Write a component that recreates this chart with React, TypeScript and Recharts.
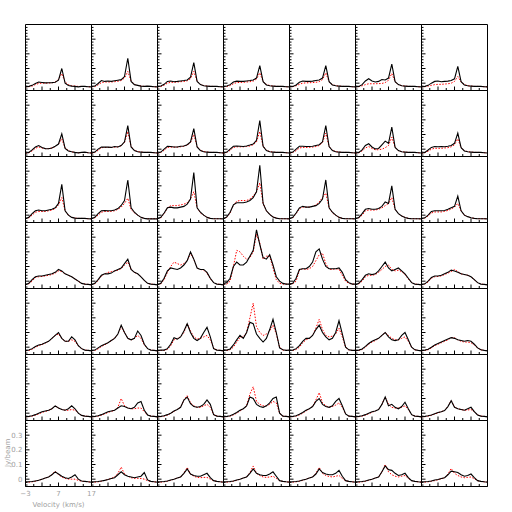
import React from 'react';
import { LineChart, Line, XAxis, YAxis } from 'recharts';

// velocity grid (km/s)
const velocity = [-3, -2, -1, 0, 1, 2, 3, 4, 5, 6, 7, 8, 9, 10, 11, 12, 13, 14, 15, 16, 17];

const xTicks = [-3, -0.5, 2, 4.5, 7, 9.5, 12, 14.5, 17];
const xMajorTicks = [-3, 2, 7, 12, 17];
const xLabelTicks = [-3, 7, 17];
const yTicks = [-0.04, -0.02, 0, 0.02, 0.04, 0.06, 0.08, 0.1, 0.12, 0.14, 0.16, 0.18, 0.2, 0.22, 0.24, 0.26, 0.28, 0.3, 0.32, 0.34, 0.36, 0.38];
const yMajorTicks = [0, 0.1, 0.2, 0.3];
const yLabelTicks = [0, 0.1, 0.2, 0.3];

// observed (black) spectra, one row of 7 panels per array
const obsRow1 = [
  [-0.025,-0.022,-0.015,-0.002,0.008,0.005,0.002,0.003,0.004,0.006,0.02,0.10,0.0,-0.016,-0.02,-0.022,-0.025,-0.022,-0.022,-0.024,-0.025],
  [-0.025,-0.02,-0.002,0.018,0.012,0.015,0.012,0.016,0.02,0.024,0.045,0.17,0.012,-0.01,-0.015,-0.02,-0.022,-0.02,-0.022,-0.024,-0.025],
  [-0.025,-0.02,-0.008,0.012,0.015,0.01,0.012,0.015,0.018,0.022,0.04,0.14,0.012,-0.01,-0.018,-0.02,-0.022,-0.021,-0.022,-0.024,-0.025],
  [-0.025,-0.02,-0.01,0.008,0.014,0.012,0.012,0.015,0.018,0.022,0.035,0.12,0.01,-0.012,-0.018,-0.02,-0.022,-0.022,-0.022,-0.024,-0.025],
  [-0.025,-0.022,-0.012,0.006,0.015,0.012,0.012,0.014,0.018,0.022,0.035,0.12,0.01,-0.012,-0.018,-0.02,-0.022,-0.022,-0.022,-0.024,-0.025],
  [-0.025,-0.022,-0.01,0.015,0.03,0.015,0.008,0.012,0.025,0.022,0.035,0.13,0.01,-0.01,-0.018,-0.02,-0.022,-0.022,-0.022,-0.024,-0.025],
  [-0.025,-0.022,-0.015,0.0,0.012,0.015,0.01,0.012,0.014,0.018,0.03,0.115,0.01,-0.012,-0.018,-0.02,-0.022,-0.022,-0.022,-0.024,-0.025],
];
const obsRow2 = [
  [-0.028,-0.022,-0.005,0.015,0.025,0.012,0.004,0.003,0.008,0.02,0.035,0.105,0.005,-0.012,-0.018,-0.022,-0.025,-0.022,-0.02,-0.024,-0.026],
  [-0.028,-0.02,0.0,0.015,0.014,0.014,0.012,0.018,0.015,0.025,0.05,0.16,0.015,-0.01,-0.018,-0.02,-0.022,-0.022,-0.022,-0.024,-0.026],
  [-0.028,-0.02,0.0,0.02,0.018,0.015,0.015,0.02,0.022,0.03,0.05,0.14,0.015,-0.01,-0.018,-0.02,-0.022,-0.022,-0.022,-0.024,-0.026],
  [-0.028,-0.02,0.0,0.02,0.022,0.02,0.018,0.022,0.028,0.035,0.06,0.195,0.02,-0.01,-0.018,-0.02,-0.022,-0.022,-0.022,-0.024,-0.026],
  [-0.028,-0.02,0.0,0.02,0.02,0.018,0.018,0.02,0.025,0.03,0.05,0.16,0.018,-0.01,-0.018,-0.02,-0.022,-0.022,-0.022,-0.024,-0.026],
  [-0.028,-0.022,-0.005,0.025,0.037,0.015,0.002,0.005,0.03,0.055,0.04,0.15,0.012,-0.01,-0.018,-0.02,-0.022,-0.022,-0.022,-0.024,-0.026],
  [-0.028,-0.022,-0.006,0.012,0.018,0.016,0.018,0.016,0.02,0.025,0.04,0.11,0.01,-0.012,-0.018,-0.02,-0.022,-0.022,-0.022,-0.024,-0.026],
];
const obsRow3 = [
  [-0.025,-0.015,0.01,0.03,0.035,0.03,0.03,0.035,0.04,0.05,0.08,0.21,0.03,0.0,-0.015,-0.02,-0.022,-0.022,-0.022,-0.024,-0.025],
  [-0.025,-0.015,0.01,0.03,0.032,0.03,0.03,0.035,0.045,0.066,0.1,0.24,0.05,0.02,0.0,-0.015,-0.022,-0.025,-0.025,-0.024,-0.025],
  [-0.025,-0.015,0.015,0.05,0.055,0.05,0.05,0.055,0.06,0.075,0.11,0.29,0.05,0.02,0.0,-0.015,-0.022,-0.024,-0.024,-0.024,-0.025],
  [-0.025,-0.012,0.02,0.07,0.085,0.085,0.085,0.09,0.1,0.12,0.16,0.34,0.08,0.03,0.005,-0.012,-0.02,-0.024,-0.024,-0.024,-0.025],
  [-0.025,-0.015,0.015,0.05,0.06,0.055,0.055,0.06,0.065,0.08,0.11,0.24,0.05,0.02,0.0,-0.015,-0.022,-0.024,-0.024,-0.024,-0.025],
  [-0.025,-0.016,0.01,0.04,0.045,0.04,0.04,0.045,0.06,0.09,0.08,0.2,0.04,0.01,-0.005,-0.016,-0.022,-0.024,-0.024,-0.024,-0.025],
  [-0.025,-0.018,0.0,0.025,0.03,0.03,0.03,0.032,0.04,0.05,0.06,0.13,0.03,0.0,-0.01,-0.018,-0.022,-0.024,-0.024,-0.024,-0.025],
];
const obsRow4 = [
  [-0.025,-0.015,0.01,0.03,0.035,0.035,0.04,0.045,0.05,0.06,0.08,0.07,0.05,0.04,0.03,0.015,0.0,-0.015,-0.02,-0.022,-0.025],
  [-0.025,-0.015,0.01,0.04,0.05,0.05,0.055,0.07,0.08,0.09,0.12,0.15,0.08,0.06,0.05,0.03,0.005,-0.015,-0.02,-0.022,-0.025],
  [-0.025,-0.015,0.02,0.07,0.09,0.085,0.08,0.09,0.11,0.14,0.2,0.15,0.09,0.08,0.08,0.06,0.02,-0.01,-0.02,-0.022,-0.025],
  [-0.015,-0.01,0.02,0.1,0.13,0.11,0.11,0.13,0.17,0.21,0.35,0.25,0.16,0.15,0.18,0.11,0.03,0.0,-0.015,-0.02,-0.02],
  [-0.02,-0.015,0.02,0.08,0.085,0.085,0.1,0.13,0.2,0.22,0.15,0.1,0.085,0.085,0.085,0.09,0.06,0.01,-0.01,-0.02,-0.02],
  [-0.025,-0.015,0.01,0.04,0.05,0.045,0.05,0.07,0.1,0.13,0.09,0.07,0.08,0.09,0.07,0.05,0.02,-0.01,-0.02,-0.022,-0.025],
  [-0.025,-0.018,0.0,0.025,0.035,0.035,0.04,0.05,0.06,0.075,0.07,0.06,0.05,0.045,0.04,0.03,0.01,-0.01,-0.02,-0.022,-0.025],
];
const obsRow5 = [
  [-0.025,-0.02,-0.01,0.005,0.015,0.02,0.03,0.04,0.06,0.08,0.1,0.06,0.04,0.04,0.07,0.05,0.01,-0.01,-0.02,-0.022,-0.025],
  [-0.025,-0.02,-0.005,0.01,0.02,0.03,0.045,0.06,0.09,0.15,0.1,0.06,0.05,0.06,0.11,0.08,0.02,-0.01,-0.02,-0.022,-0.025],
  [-0.025,-0.02,-0.02,-0.01,0.02,0.065,0.055,0.07,0.11,0.16,0.1,0.06,0.045,0.06,0.1,0.135,0.07,-0.01,-0.02,-0.022,-0.025],
  [-0.02,-0.02,-0.012,0.015,0.05,0.08,0.06,0.1,0.17,0.16,0.09,0.06,0.035,0.06,0.12,0.19,0.1,-0.005,-0.018,-0.022,-0.02],
  [-0.022,-0.02,-0.01,0.01,0.04,0.06,0.06,0.08,0.12,0.15,0.1,0.07,0.05,0.06,0.1,0.18,0.09,0.0,-0.018,-0.022,-0.022],
  [-0.025,-0.02,-0.012,0.005,0.025,0.04,0.05,0.06,0.08,0.1,0.07,0.05,0.045,0.05,0.08,0.1,0.05,0.0,-0.018,-0.022,-0.025],
  [-0.025,-0.02,-0.014,0.0,0.015,0.025,0.035,0.045,0.055,0.065,0.06,0.05,0.045,0.04,0.045,0.04,0.02,-0.005,-0.018,-0.022,-0.025],
];
const obsRow6 = [
  [-0.025,-0.022,-0.018,-0.01,0.0,0.01,0.015,0.02,0.03,0.05,0.035,0.025,0.02,0.03,0.05,0.03,0.0,-0.015,-0.02,-0.022,-0.025],
  [-0.025,-0.022,-0.018,-0.01,0.0,0.01,0.015,0.02,0.035,0.05,0.045,0.035,0.03,0.04,0.07,0.08,0.02,-0.012,-0.02,-0.022,-0.025],
  [-0.025,-0.022,-0.018,-0.01,0.0,0.015,0.025,0.04,0.09,0.11,0.065,0.045,0.04,0.045,0.06,0.09,0.06,-0.01,-0.02,-0.022,-0.025],
  [-0.025,-0.022,-0.018,-0.008,0.005,0.02,0.03,0.05,0.11,0.1,0.06,0.045,0.04,0.05,0.07,0.1,0.11,0.0,-0.02,-0.022,-0.025],
  [-0.025,-0.022,-0.018,-0.008,0.005,0.02,0.03,0.045,0.08,0.1,0.06,0.045,0.04,0.05,0.08,0.1,0.05,-0.005,-0.02,-0.022,-0.025],
  [-0.025,-0.022,-0.018,-0.01,0.0,0.01,0.015,0.025,0.06,0.11,0.05,0.06,0.04,0.03,0.045,0.075,0.03,-0.01,-0.02,-0.022,-0.025],
  [-0.025,-0.022,-0.018,-0.012,-0.004,0.004,0.01,0.018,0.045,0.085,0.04,0.03,0.025,0.02,0.03,0.04,0.01,-0.012,-0.02,-0.022,-0.025],
];
const obsRow7 = [
  [-0.02,-0.018,-0.016,-0.012,-0.008,0.0,0.008,0.015,0.03,0.05,0.035,0.02,0.01,0.005,0.015,0.03,0.0,-0.012,-0.015,-0.018,-0.02],
  [-0.02,-0.018,-0.016,-0.012,-0.008,-0.002,0.005,0.01,0.03,0.05,0.03,0.02,0.015,0.01,0.015,0.02,0.045,-0.005,-0.015,-0.018,-0.02],
  [-0.02,-0.018,-0.016,-0.012,-0.006,0.0,0.008,0.015,0.04,0.07,0.035,0.025,0.02,0.02,0.03,0.04,0.01,-0.01,-0.015,-0.018,-0.02],
  [-0.02,-0.018,-0.016,-0.012,-0.006,0.0,0.008,0.015,0.04,0.07,0.04,0.03,0.025,0.025,0.035,0.05,0.02,-0.01,-0.015,-0.018,-0.02],
  [-0.02,-0.018,-0.016,-0.012,-0.006,0.0,0.008,0.015,0.035,0.07,0.045,0.035,0.03,0.03,0.04,0.06,0.02,-0.01,-0.015,-0.018,-0.02],
  [-0.02,-0.018,-0.016,-0.012,-0.006,0.0,0.008,0.015,0.05,0.09,0.065,0.06,0.04,0.025,0.03,0.04,0.01,-0.01,-0.015,-0.018,-0.02],
  [-0.02,-0.018,-0.016,-0.012,-0.006,-0.002,0.004,0.01,0.03,0.055,0.05,0.045,0.03,0.02,0.025,0.035,0.01,-0.01,-0.015,-0.018,-0.02],
];

// model (red dotted) spectra
const modRow1 = [
  [-0.025,-0.024,-0.02,-0.01,-0.002,0.0,0.0,0.001,0.002,0.008,0.025,0.065,0.008,-0.01,-0.018,-0.02,-0.022,-0.022,-0.023,-0.024,-0.025],
  [-0.025,-0.023,-0.012,0.004,0.008,0.008,0.008,0.01,0.013,0.018,0.035,0.08,0.015,-0.008,-0.016,-0.02,-0.022,-0.022,-0.023,-0.024,-0.025],
  [-0.025,-0.023,-0.014,0.0,0.006,0.006,0.008,0.01,0.012,0.016,0.03,0.08,0.014,-0.008,-0.016,-0.02,-0.022,-0.022,-0.023,-0.024,-0.025],
  [-0.025,-0.023,-0.016,-0.004,0.004,0.005,0.006,0.008,0.01,0.014,0.028,0.07,0.012,-0.008,-0.016,-0.02,-0.022,-0.022,-0.023,-0.024,-0.025],
  [-0.025,-0.024,-0.018,-0.008,0.0,0.002,0.003,0.004,0.006,0.01,0.024,0.07,0.01,-0.01,-0.017,-0.02,-0.022,-0.022,-0.023,-0.024,-0.025],
  [-0.025,-0.024,-0.018,-0.01,-0.004,-0.004,-0.004,-0.003,-0.002,0.004,0.02,0.066,0.01,-0.01,-0.017,-0.02,-0.022,-0.022,-0.023,-0.024,-0.025],
  [-0.025,-0.024,-0.02,-0.015,-0.01,-0.008,-0.008,-0.006,-0.004,0.0,0.012,0.045,0.008,-0.01,-0.017,-0.02,-0.022,-0.022,-0.023,-0.024,-0.025],
];
const modRow2 = [
  [-0.028,-0.024,-0.012,0.006,0.015,0.008,0.004,0.004,0.008,0.018,0.035,0.07,0.008,-0.01,-0.018,-0.022,-0.024,-0.023,-0.023,-0.024,-0.026],
  [-0.028,-0.022,-0.008,0.01,0.012,0.012,0.012,0.014,0.016,0.024,0.045,0.12,0.018,-0.008,-0.016,-0.02,-0.022,-0.022,-0.023,-0.024,-0.026],
  [-0.028,-0.022,-0.008,0.012,0.014,0.014,0.014,0.016,0.02,0.028,0.045,0.1,0.018,-0.008,-0.016,-0.02,-0.022,-0.022,-0.023,-0.024,-0.026],
  [-0.028,-0.022,-0.008,0.012,0.016,0.016,0.016,0.018,0.022,0.03,0.05,0.12,0.02,-0.008,-0.016,-0.02,-0.022,-0.022,-0.023,-0.024,-0.026],
  [-0.028,-0.022,-0.01,0.008,0.012,0.012,0.012,0.014,0.018,0.025,0.045,0.11,0.018,-0.008,-0.016,-0.02,-0.022,-0.022,-0.023,-0.024,-0.026],
  [-0.028,-0.024,-0.012,0.008,0.018,0.005,-0.004,-0.004,0.0,0.01,0.025,0.082,0.012,-0.01,-0.017,-0.02,-0.022,-0.022,-0.023,-0.024,-0.026],
  [-0.028,-0.024,-0.014,0.0,0.006,0.006,0.006,0.008,0.01,0.016,0.03,0.07,0.01,-0.01,-0.017,-0.02,-0.022,-0.022,-0.023,-0.024,-0.026],
];
const modRow3 = [
  [-0.025,-0.018,0.0,0.02,0.025,0.025,0.025,0.03,0.035,0.045,0.07,0.12,0.03,0.0,-0.014,-0.02,-0.022,-0.022,-0.023,-0.024,-0.025],
  [-0.025,-0.018,0.0,0.02,0.025,0.025,0.026,0.03,0.04,0.055,0.08,0.115,0.04,0.015,0.0,-0.015,-0.022,-0.024,-0.024,-0.024,-0.025],
  [-0.025,-0.018,0.01,0.05,0.065,0.065,0.065,0.07,0.075,0.085,0.11,0.16,0.05,0.015,0.0,-0.015,-0.022,-0.024,-0.024,-0.024,-0.025],
  [-0.025,-0.015,0.015,0.07,0.095,0.1,0.1,0.1,0.11,0.13,0.16,0.22,0.08,0.03,0.005,-0.012,-0.02,-0.024,-0.024,-0.024,-0.025],
  [-0.025,-0.018,0.01,0.045,0.055,0.055,0.055,0.06,0.07,0.09,0.12,0.15,0.05,0.015,0.0,-0.015,-0.022,-0.024,-0.024,-0.024,-0.025],
  [-0.025,-0.018,0.0,0.03,0.035,0.035,0.035,0.04,0.05,0.065,0.08,0.12,0.04,0.01,-0.005,-0.016,-0.022,-0.024,-0.024,-0.024,-0.025],
  [-0.025,-0.02,-0.005,0.015,0.022,0.022,0.022,0.026,0.032,0.042,0.055,0.08,0.03,0.0,-0.01,-0.018,-0.022,-0.024,-0.024,-0.024,-0.025],
];
const modRow4 = [
  [-0.025,-0.018,0.0,0.025,0.03,0.032,0.036,0.04,0.045,0.055,0.07,0.065,0.05,0.04,0.03,0.015,0.0,-0.015,-0.02,-0.022,-0.025],
  [-0.025,-0.018,0.005,0.035,0.05,0.06,0.065,0.07,0.075,0.085,0.11,0.13,0.08,0.06,0.05,0.03,0.005,-0.015,-0.02,-0.022,-0.025],
  [-0.025,-0.018,0.01,0.06,0.1,0.13,0.12,0.11,0.12,0.14,0.19,0.15,0.09,0.08,0.075,0.055,0.015,-0.01,-0.02,-0.022,-0.025],
  [-0.02,-0.02,0.0,0.1,0.21,0.2,0.17,0.15,0.16,0.2,0.32,0.26,0.15,0.17,0.17,0.09,0.01,-0.015,-0.02,-0.02,-0.02],
  [-0.02,-0.018,0.0,0.075,0.085,0.08,0.085,0.1,0.14,0.18,0.19,0.12,0.08,0.08,0.085,0.08,0.04,0.0,-0.015,-0.02,-0.02],
  [-0.025,-0.018,0.0,0.03,0.04,0.04,0.045,0.06,0.08,0.1,0.11,0.08,0.07,0.075,0.065,0.045,0.015,-0.01,-0.02,-0.022,-0.025],
  [-0.025,-0.02,-0.005,0.02,0.03,0.032,0.036,0.045,0.055,0.065,0.08,0.065,0.05,0.045,0.04,0.03,0.01,-0.01,-0.02,-0.022,-0.025],
];
const modRow5 = [
  [-0.025,-0.022,-0.015,0.0,0.01,0.018,0.028,0.04,0.06,0.08,0.09,0.06,0.04,0.04,0.05,0.04,0.01,-0.01,-0.02,-0.022,-0.025],
  [-0.025,-0.022,-0.012,0.005,0.015,0.03,0.045,0.06,0.09,0.14,0.1,0.06,0.05,0.06,0.08,0.06,0.015,-0.01,-0.02,-0.022,-0.025],
  [-0.025,-0.022,-0.022,-0.015,0.01,0.05,0.06,0.07,0.1,0.16,0.11,0.07,0.055,0.06,0.07,0.08,0.05,-0.005,-0.02,-0.022,-0.025],
  [-0.022,-0.022,-0.018,0.0,0.035,0.065,0.07,0.1,0.2,0.3,0.14,0.1,0.08,0.09,0.11,0.15,0.09,0.0,-0.02,-0.022,-0.022],
  [-0.022,-0.022,-0.016,0.0,0.03,0.05,0.06,0.08,0.13,0.19,0.12,0.08,0.07,0.075,0.09,0.13,0.07,0.0,-0.02,-0.022,-0.022],
  [-0.025,-0.022,-0.016,0.0,0.02,0.035,0.045,0.06,0.08,0.1,0.08,0.06,0.05,0.05,0.06,0.07,0.04,0.0,-0.018,-0.022,-0.025],
  [-0.025,-0.022,-0.018,-0.005,0.01,0.02,0.03,0.04,0.05,0.065,0.065,0.05,0.04,0.035,0.035,0.03,0.015,-0.005,-0.018,-0.022,-0.025],
];
const modRow6 = [
  [-0.025,-0.024,-0.02,-0.014,-0.005,0.005,0.012,0.018,0.03,0.05,0.035,0.025,0.02,0.02,0.025,0.02,0.0,-0.015,-0.02,-0.022,-0.025],
  [-0.025,-0.024,-0.02,-0.014,-0.005,0.005,0.012,0.02,0.04,0.1,0.05,0.035,0.03,0.03,0.035,0.035,0.01,-0.012,-0.02,-0.022,-0.025],
  [-0.025,-0.024,-0.02,-0.014,-0.002,0.012,0.025,0.04,0.09,0.12,0.07,0.05,0.04,0.04,0.05,0.06,0.04,-0.01,-0.02,-0.022,-0.025],
  [-0.025,-0.024,-0.02,-0.012,0.0,0.015,0.03,0.05,0.13,0.18,0.08,0.06,0.05,0.05,0.06,0.08,0.07,0.0,-0.02,-0.022,-0.025],
  [-0.025,-0.024,-0.02,-0.012,0.0,0.015,0.03,0.045,0.09,0.14,0.07,0.05,0.04,0.045,0.055,0.07,0.04,-0.005,-0.02,-0.022,-0.025],
  [-0.025,-0.024,-0.02,-0.014,-0.004,0.006,0.015,0.025,0.06,0.11,0.06,0.04,0.035,0.035,0.04,0.05,0.025,-0.01,-0.02,-0.022,-0.025],
  [-0.025,-0.024,-0.02,-0.015,-0.006,0.002,0.01,0.018,0.045,0.085,0.045,0.03,0.025,0.02,0.022,0.025,0.01,-0.012,-0.02,-0.022,-0.025],
];
const modRow7 = [
  [-0.022,-0.02,-0.018,-0.014,-0.008,0.0,0.008,0.015,0.03,0.055,0.03,0.015,0.005,0.0,0.0,0.0,-0.008,-0.014,-0.016,-0.018,-0.02],
  [-0.022,-0.02,-0.018,-0.014,-0.008,-0.002,0.005,0.015,0.04,0.082,0.035,0.02,0.01,0.005,0.005,0.005,0.0,-0.01,-0.016,-0.018,-0.02],
  [-0.022,-0.02,-0.018,-0.014,-0.008,0.0,0.008,0.015,0.04,0.08,0.035,0.02,0.012,0.01,0.012,0.012,0.0,-0.01,-0.016,-0.018,-0.02],
  [-0.022,-0.02,-0.018,-0.014,-0.008,0.0,0.008,0.015,0.045,0.09,0.04,0.025,0.015,0.012,0.015,0.02,0.005,-0.01,-0.016,-0.018,-0.02],
  [-0.022,-0.02,-0.018,-0.014,-0.008,0.0,0.008,0.015,0.04,0.08,0.04,0.025,0.018,0.015,0.02,0.025,0.005,-0.01,-0.016,-0.018,-0.02],
  [-0.022,-0.02,-0.018,-0.014,-0.008,0.0,0.008,0.015,0.05,0.1,0.05,0.03,0.02,0.015,0.02,0.025,0.005,-0.01,-0.016,-0.018,-0.02],
  [-0.022,-0.02,-0.018,-0.014,-0.01,-0.004,0.002,0.01,0.035,0.073,0.04,0.025,0.015,0.01,0.012,0.015,0.002,-0.01,-0.016,-0.018,-0.02],
];

const observedRows = [obsRow1, obsRow2, obsRow3, obsRow4, obsRow5, obsRow6, obsRow7];
const modelRows = [modRow1, modRow2, modRow3, modRow4, modRow5, modRow6, modRow7];

const LABEL_COLOR = '#a0a0a0';
const FONT = "'DejaVu Sans', sans-serif";

const fmtTick = (v: number) => (v < 0 ? '\u2212' + Math.abs(v) : String(v));

const XTick = (props: any) => {
  const { x, y, payload, labeled } = props;
  const v = payload.value;
  const major = xMajorTicks.includes(v);
  return (
    <g>
      <line x1={x} x2={x} y1={y} y2={y - (major ? 4 : 2.5)} stroke="#000" strokeWidth={1} />
      {labeled && xLabelTicks.includes(v) && (
        <text x={x} y={y + 9} textAnchor="middle" fill={LABEL_COLOR} fontSize={7} fontFamily={FONT}>
          {fmtTick(v)}
        </text>
      )}
      {labeled && v === 7 && (
        <text x={x} y={y + 20} textAnchor="middle" fill={LABEL_COLOR} fontSize={7} fontFamily={FONT}>
          Velocity (km/s)
        </text>
      )}
    </g>
  );
};

const YTick = (props: any) => {
  const { x, y, payload, labeled } = props;
  const v = payload.value;
  const major = yMajorTicks.includes(v);
  return (
    <g>
      <line x1={x} x2={x + (major ? 4 : 2)} y1={y} y2={y} stroke="#000" strokeWidth={1} />
      {labeled && yLabelTicks.includes(v) && (
        <text x={x - 3} y={y} dy="0.35em" textAnchor="end" fill={LABEL_COLOR} fontSize={7} fontFamily={FONT}>
          {String(v)}
        </text>
      )}
      {labeled && v === 0.2 && (
        <text x={x - 15} y={y + 3} textAnchor="middle" fill={LABEL_COLOR} fontSize={7} fontFamily={FONT}
          transform={`rotate(-90 ${x - 15} ${y + 3})`}>
          Jy/beam
        </text>
      )}
    </g>
  );
};

const AX = 1; // axis band thickness (px)
const CELL = 66;
const SIZE = CELL + 2 * AX + 1;

function Panel({ row, col }: { row: number; col: number }) {
  const obs = observedRows[row][col];
  const mod = modelRows[row][col];
  const data = velocity.map((v, i) => ({ v, obs: obs[i], mod: mod[i] }));
  const labeled = row === 6 && col === 0;
  return (
    <div style={{ position: 'absolute', left: 25 + col * CELL - AX, top: 24 + row * CELL - AX, width: SIZE, height: SIZE }}>
      <LineChart width={SIZE} height={SIZE} data={data} margin={{ top: 0.5, right: 0.5, bottom: 0.5, left: 0.5 }}>
        <XAxis dataKey="v" type="number" domain={[-3, 17]} ticks={xTicks} interval={0} height={AX}
          tickSize={0} tickMargin={0} tickLine={false} tick={<XTick labeled={labeled} />}
          axisLine={{ stroke: '#000', strokeWidth: 1 }} />
        <XAxis xAxisId="top" orientation="top" dataKey="v" type="number" domain={[-3, 17]} height={AX}
          tick={false} tickLine={false} axisLine={{ stroke: '#000', strokeWidth: 1 }} />
        <YAxis type="number" domain={[-0.05, 0.4]} ticks={yTicks} interval={0} width={AX}
          tickSize={0} tickMargin={0} tickLine={false} tick={<YTick labeled={labeled} />}
          axisLine={{ stroke: '#000', strokeWidth: 1 }} />
        <YAxis yAxisId="right" orientation="right" type="number" domain={[-0.05, 0.4]} width={AX}
          tick={false} tickLine={false} axisLine={{ stroke: '#000', strokeWidth: 1 }} />
        <Line type="linear" dataKey="mod" stroke="#ff0000" strokeWidth={1} strokeDasharray="1.5 1.5"
          dot={false} isAnimationActive={false} />
        <Line type="linear" dataKey="obs" stroke="#000" strokeWidth={1.1} dot={false} isAnimationActive={false} />
      </LineChart>
    </div>
  );
}

export default function App() {
  const rows = [0, 1, 2, 3, 4, 5, 6];
  const cols = [0, 1, 2, 3, 4, 5, 6];
  return (
    <div style={{ position: 'absolute', left: 0, top: 0, width: 512, height: 512, background: '#fff' }}>
      <style>{'.recharts-surface{overflow:visible}'}</style>
      {rows.map((r) => cols.map((c) => <Panel key={`${r}-${c}`} row={r} col={c} />))}
    </div>
  );
}
